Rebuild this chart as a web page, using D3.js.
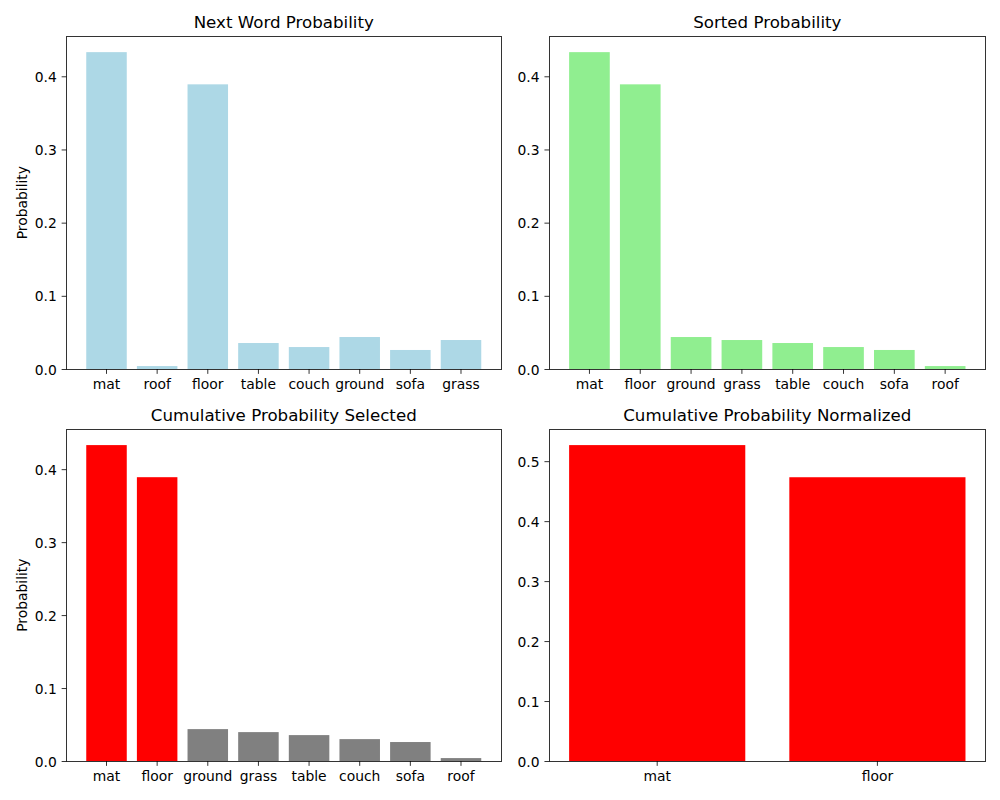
<!DOCTYPE html>
<html>
<head>
<meta charset="utf-8">
<script src="https://cdn.jsdelivr.net/npm/d3@7"></script>
<style>
  body { margin: 0; background: #fff; }
  svg { display: block; font-family: "DejaVu Sans", sans-serif; }
</style>
</head>
<body>
<svg id="chart" width="1000" height="800"></svg>
<script>
// ---- data ----
const words = ["mat", "roof", "floor", "table", "couch", "ground", "sofa", "grass"];
const probs = [0.433, 0.004, 0.389, 0.0355, 0.030, 0.0437, 0.026, 0.0396];

const sortedWords = ["mat", "floor", "ground", "grass", "table", "couch", "sofa", "roof"];
const sortedProbs = [0.433, 0.389, 0.0437, 0.0396, 0.0355, 0.030, 0.026, 0.004];

const selectedFlags = [true, true, false, false, false, false, false, false];

const normWords = ["mat", "floor"];
const normProbs = [0.5268, 0.4732];

const yTicksA = [0.0, 0.1, 0.2, 0.3, 0.4];
const yTicksB = [0.0, 0.1, 0.2, 0.3, 0.4, 0.5];

const titles = ["Next Word Probability", "Sorted Probability",
                "Cumulative Probability Selected", "Cumulative Probability Normalized"];

// ---- layout ----
const svg = d3.select("#chart");
const TICK_FS = 13.89, TITLE_FS = 16.67;
const cols = [[66.5, 501], [549.3, 985.3]];
const rows = [[36.3, 369], [429.3, 761]];

function panel(col, row, cats, vals, colorFn, yTicks, title, ylabel) {
  const [x0, x1] = cols[col];
  const [y0, y1] = rows[row];
  const n = cats.length;
  const g = svg.append("g");
  const x = d3.scaleBand().domain(cats).range([x0, x1])
      .paddingInner(0.2).paddingOuter(0.05 * (n - 0.2)).align(0.5);
  const y = d3.scaleLinear().domain([0, d3.max(vals) * 1.05]).range([y1, y0]);

  g.selectAll("rect.bar").data(cats).join("rect")
    .attr("class", "bar")
    .attr("x", d => x(d))
    .attr("width", x.bandwidth())
    .attr("y", (d, i) => y(vals[i]))
    .attr("height", (d, i) => y(0) - y(vals[i]))
    .attr("fill", (d, i) => colorFn(i));

  // axes
  const xAxis = d3.axisBottom(x).tickSize(4.86).tickPadding(4.86);
  const gx = g.append("g").attr("transform", `translate(0,${y1})`).call(xAxis);
  const yAxis = d3.axisLeft(y).tickValues(yTicks).tickFormat(d3.format(".1f"))
      .tickSize(4.86).tickPadding(4.86);
  const gy = g.append("g").attr("transform", `translate(${x0},0)`).call(yAxis);
  [gx, gy].forEach(a => {
    a.select(".domain").remove();
    a.selectAll(".tick line").attr("stroke", "#000").attr("stroke-width", 0.8);
    a.selectAll(".tick text").attr("fill", "#000")
      .attr("font-size", TICK_FS).attr("font-family", "DejaVu Sans, sans-serif");
  });
  gx.selectAll(".tick text").attr("dy", "0.76em");
  gy.selectAll(".tick text").attr("dy", "0.36em");

  // frame
  g.append("rect").attr("x", x0).attr("y", y0)
    .attr("width", x1 - x0).attr("height", y1 - y0)
    .attr("fill", "none").attr("stroke", "#000").attr("stroke-width", 0.8)
    .attr("shape-rendering", "crispEdges");

  g.append("text").attr("x", (x0 + x1) / 2).attr("y", y0 - 8.33)
    .attr("text-anchor", "middle").attr("font-size", TITLE_FS).attr("fill", "#000")
    .text(title);

  if (ylabel) {
    g.append("text")
      .attr("transform", `translate(${x0 - 40},${(y0 + y1) / 2}) rotate(-90)`)
      .attr("text-anchor", "middle").attr("font-size", TICK_FS).attr("fill", "#000")
      .text(ylabel);
  }
}

panel(0, 0, words, probs, () => "#add8e6", yTicksA, titles[0], "Probability");
panel(1, 0, sortedWords, sortedProbs, () => "#90ee90", yTicksA, titles[1], null);
panel(0, 1, sortedWords, sortedProbs, i => selectedFlags[i] ? "#ff0000" : "#808080", yTicksA, titles[2], "Probability");
panel(1, 1, normWords, normProbs, () => "#ff0000", yTicksB, titles[3], null);
</script>
</body>
</html>
